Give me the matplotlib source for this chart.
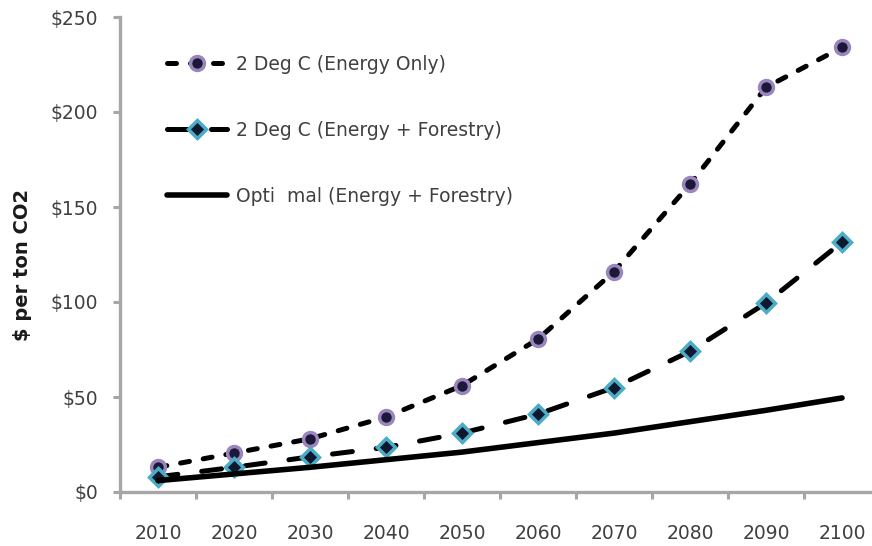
import matplotlib.pyplot as plt
import numpy as np

plt.rcParams['font.family'] = ['DejaVu Sans']

years = ["2010", "2020", "2030", "2040", "2050", "2060", "2070", "2080", "2090", "2100"]
energy_only = [13, 20.5, 28, 39.5, 56, 80.5, 116, 162, 213, 234]
energy_forestry = [8, 13, 18.5, 23.5, 31, 41, 55, 74, 99.5, 131.5]
optimal = [6, 9.5, 13, 17, 21, 26, 31, 37, 43, 49.5]

labels = ["2 Deg C (Energy Only)",
          "2 Deg C (Energy + Forestry)",
          "Opti  mal (Energy + Forestry)"]

axis_grey = "#a6a6a6"
text_grey = "#404040"

fig = plt.figure(figsize=(8.72, 5.46), dpi=100)
ax = fig.add_axes([120 / 872, 1 - 492 / 546, 760 / 872, (492 - 17) / 546])

x = np.arange(len(years))

# round-capped dashes: caps eat into the gaps, so the off part is padded
ax.plot(x, energy_only, color="black", lw=3.6, dashes=(1.8, 2.8),
        dash_capstyle="round", marker="o", markersize=10,
        markerfacecolor="#1c1838", markeredgecolor="#9a86bd",
        markeredgewidth=2.5, label=labels[0])
ax.plot(x, energy_forestry, color="black", lw=3.6, dashes=(4.0, 4.8),
        dash_capstyle="round", marker="D", markersize=9,
        markerfacecolor="#101830", markeredgecolor="#4bacc6",
        markeredgewidth=2.5, label=labels[1])
ax.plot(x, optimal, color="black", lw=4, solid_capstyle="round",
        label=labels[2])

ax.set_xlim(-0.5, 9.5)
ax.set_ylim(0, 250)
ax.set_yticks([0, 50, 100, 150, 200, 250])
ax.set_yticklabels(["$0", "$50", "$100", "$150", "$200", "$250"])
ax.set_xticks(x)
ax.set_xticklabels(years)
ax.set_xticks(np.arange(-0.5, 10, 1), minor=True)

for side in ["top", "right"]:
    ax.spines[side].set_visible(False)
for side in ["left", "bottom"]:
    ax.spines[side].set_color(axis_grey)
    ax.spines[side].set_linewidth(2.4)

ax.tick_params(axis="y", colors=axis_grey, labelcolor=text_grey, labelsize=13.5,
               length=5, width=2.2, pad=11)
ax.tick_params(axis="x", which="major", length=0, labelcolor=text_grey,
               labelsize=13.5, pad=23)
ax.tick_params(axis="x", which="minor", colors=axis_grey, length=5, width=2.2)

fig.text(22 / 872, 1 - 265 / 546, "$ per ton CO2", rotation=90, ha="center",
         va="center", fontsize=14, fontweight="bold", color="#1a1a1a")

ax.legend(loc="upper left", bbox_to_anchor=(150 / 872, 1 - 38 / 546),
          bbox_transform=fig.transFigure, frameon=False, fontsize=13.5,
          handlelength=3.2, handletextpad=0.5, labelspacing=2.5,
          labelcolor=text_grey, numpoints=1)

fig.savefig("out.png", dpi=100)
